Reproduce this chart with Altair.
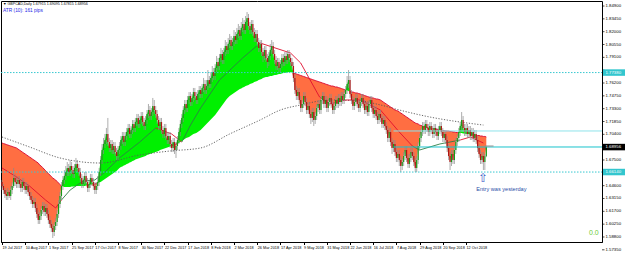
import altair as alt
import pandas as pd

# ---------------- data ----------------
dates = ["19 Jul 2017", "10 Aug 2017", "1 Sep 2017", "25 Sep 2017", "17 Oct 2017", "8 Nov 2017",
         "30 Nov 2017", "22 Dec 2017", "17 Jan 2018", "8 Feb 2018", "2 Mar 2018", "26 Mar 2018",
         "17 Apr 2018", "9 May 2018", "31 May 2018", "22 Jun 2018", "16 Jul 2018", "7 Aug 2018",
         "29 Aug 2018", "20 Sep 2018", "12 Oct 2018"]

opens = [
1.6501,1.6456,1.6411,1.6366,1.6343,1.6388,1.6343,1.6411,1.6456,1.6547,
1.6501,1.6479,1.6524,1.6479,1.6434,1.6501,1.6456,1.6411,1.6456,1.6388,
1.6343,1.6298,1.6253,1.6275,1.6208,1.6140,1.6072,1.6117,1.6185,1.6230,
1.6162,1.6208,1.6140,1.6072,1.6027,1.5982,1.5936,1.6004,1.6049,1.6140,
1.6253,1.6343,1.6456,1.6524,1.6569,1.6614,1.6660,1.6614,1.6682,1.6637,
1.6592,1.6660,1.6705,1.6660,1.6614,1.6547,1.6479,1.6524,1.6569,1.6501,
1.6434,1.6479,1.6547,1.6501,1.6456,1.6411,1.6456,1.6501,1.6614,1.6750,
1.6863,1.6931,1.6976,1.7044,1.6953,1.6886,1.6931,1.6863,1.6908,1.6840,
1.6795,1.6863,1.6908,1.6976,1.7021,1.6953,1.7021,1.7066,1.7112,1.7044,
1.7089,1.7157,1.7112,1.7179,1.7225,1.7157,1.7202,1.7247,1.7179,1.7134,
1.7202,1.7270,1.7315,1.7247,1.7292,1.7360,1.7315,1.7270,1.7202,1.7134,
1.7179,1.7089,1.7044,1.7112,1.7021,1.6976,1.7021,1.6931,1.6886,1.6953,
1.6863,1.6908,1.6976,1.7066,1.7157,1.7225,1.7315,1.7383,1.7338,1.7428,
1.7473,1.7405,1.7451,1.7518,1.7473,1.7428,1.7496,1.7541,1.7496,1.7564,
1.7609,1.7541,1.7586,1.7654,1.7609,1.7677,1.7744,1.7699,1.7790,1.7857,
1.7812,1.7903,1.7948,1.7880,1.7970,1.8038,1.7993,1.8061,1.8106,1.8038,
1.8083,1.8151,1.8106,1.8174,1.8219,1.8151,1.8242,1.8287,1.8219,1.8309,
1.8355,1.8264,1.8219,1.8287,1.8196,1.8129,1.8174,1.8083,1.8016,1.8061,
1.7970,1.7925,1.7993,1.7903,1.7857,1.7925,1.7993,1.8038,1.7948,1.7880,
1.7812,1.7857,1.7790,1.7835,1.7903,1.7857,1.7925,1.7880,1.7948,1.7903,
1.7857,1.7812,1.7677,1.7541,1.7473,1.7518,1.7428,1.7338,1.7383,1.7473,
1.7405,1.7315,1.7360,1.7270,1.7225,1.7292,1.7202,1.7247,1.7338,1.7383,
1.7315,1.7428,1.7473,1.7383,1.7428,1.7338,1.7405,1.7451,1.7383,1.7315,
1.7360,1.7428,1.7383,1.7451,1.7405,1.7473,1.7428,1.7496,1.7541,1.7609,
1.7654,1.7496,1.7428,1.7360,1.7405,1.7451,1.7383,1.7338,1.7405,1.7451,
1.7383,1.7315,1.7360,1.7292,1.7383,1.7428,1.7338,1.7270,1.7315,1.7247,
1.7202,1.7270,1.7225,1.7157,1.7202,1.7134,1.7089,1.6999,1.7066,1.6953,
1.6886,1.6931,1.6840,1.6773,1.6818,1.6750,1.6682,1.6727,1.6795,1.6863,
1.6773,1.6705,1.6773,1.6840,1.6795,1.6727,1.6660,1.6750,1.6908,1.6999,
1.7066,1.7134,1.7089,1.7157,1.7112,1.7066,1.7134,1.7089,1.7044,1.7112,
1.7066,1.7021,1.7089,1.7134,1.7066,1.6999,1.7044,1.6976,1.6886,1.6795,
1.6727,1.6818,1.6750,1.6863,1.6953,1.6999,1.7066,1.7134,1.7202,1.7112,
1.7066,1.7112,1.7044,1.7089,1.7021,1.7066,1.6999,1.7044,1.6976,1.6886,
1.6818,1.6750,1.6795,1.6727,1.6792]

highs = [
1.6524,1.6479,1.6434,1.6411,1.6434,1.6411,1.6456,1.6501,1.6660,1.6592,
1.6547,1.6569,1.6569,1.6524,1.6547,1.6547,1.6501,1.6501,1.6479,1.6434,
1.6388,1.6343,1.6321,1.6321,1.6253,1.6185,1.6162,1.6230,1.6275,1.6275,
1.6253,1.6253,1.6185,1.6117,1.6072,1.6027,1.6049,1.6095,1.6185,1.6298,
1.6388,1.6501,1.6569,1.6637,1.6682,1.6727,1.6705,1.6750,1.6727,1.6682,
1.6705,1.6773,1.6750,1.6705,1.6660,1.6592,1.6569,1.6614,1.6614,1.6547,
1.6524,1.6592,1.6592,1.6547,1.6501,1.6501,1.6569,1.6660,1.6795,1.6931,
1.6999,1.7044,1.7112,1.7225,1.6999,1.6976,1.6976,1.6953,1.6953,1.6886,
1.6908,1.6953,1.7021,1.7066,1.7066,1.7066,1.7112,1.7157,1.7157,1.7134,
1.7202,1.7202,1.7225,1.7270,1.7270,1.7247,1.7292,1.7292,1.7225,1.7247,
1.7315,1.7383,1.7360,1.7338,1.7451,1.7428,1.7360,1.7315,1.7247,1.7225,
1.7225,1.7134,1.7157,1.7157,1.7066,1.7066,1.7066,1.6976,1.6999,1.6999,
1.6953,1.7021,1.7112,1.7202,1.7270,1.7360,1.7428,1.7428,1.7473,1.7518,
1.7518,1.7496,1.7564,1.7564,1.7518,1.7541,1.7586,1.7586,1.7609,1.7677,
1.7654,1.7654,1.7767,1.7699,1.7744,1.7812,1.7790,1.7835,1.7925,1.7903,
1.7948,1.8016,1.7993,1.8016,1.8106,1.8083,1.8129,1.8174,1.8151,1.8129,
1.8219,1.8196,1.8242,1.8287,1.8264,1.8309,1.8355,1.8332,1.8377,1.8422,
1.8400,1.8309,1.8332,1.8332,1.8242,1.8219,1.8219,1.8129,1.8106,1.8106,
1.8016,1.8038,1.8038,1.7948,1.7970,1.8061,1.8106,1.8083,1.7993,1.7925,
1.7903,1.7903,1.7880,1.7948,1.7948,1.7970,1.7970,1.7993,1.7993,1.7948,
1.7903,1.7857,1.7722,1.7586,1.7564,1.7564,1.7473,1.7428,1.7518,1.7518,
1.7451,1.7405,1.7405,1.7315,1.7338,1.7338,1.7292,1.7383,1.7428,1.7428,
1.7473,1.7518,1.7518,1.7473,1.7473,1.7451,1.7496,1.7496,1.7428,1.7405,
1.7473,1.7473,1.7496,1.7496,1.7518,1.7518,1.7541,1.7586,1.7699,1.7767,
1.7699,1.7541,1.7473,1.7451,1.7496,1.7496,1.7428,1.7451,1.7496,1.7496,
1.7428,1.7405,1.7405,1.7428,1.7473,1.7473,1.7383,1.7360,1.7360,1.7292,
1.7315,1.7315,1.7270,1.7247,1.7247,1.7179,1.7134,1.7112,1.7112,1.6999,
1.6976,1.6976,1.6886,1.6863,1.6863,1.6795,1.6773,1.6840,1.6908,1.6908,
1.6818,1.6818,1.6886,1.6886,1.6840,1.6773,1.6795,1.6953,1.7044,1.7112,
1.7179,1.7179,1.7202,1.7202,1.7157,1.7179,1.7179,1.7134,1.7157,1.7157,
1.7112,1.7134,1.7179,1.7179,1.7112,1.7089,1.7089,1.7021,1.6931,1.6840,
1.6863,1.6863,1.6908,1.6999,1.7044,1.7112,1.7179,1.7292,1.7247,1.7157,
1.7157,1.7157,1.7134,1.7134,1.7112,1.7112,1.7089,1.7089,1.7021,1.6931,
1.6863,1.6840,1.6840,1.6818,1.6910]

lows = [
1.6411,1.6366,1.6321,1.6298,1.6298,1.6321,1.6298,1.6366,1.6434,1.6456,
1.6434,1.6434,1.6434,1.6388,1.6388,1.6411,1.6366,1.6366,1.6343,1.6298,
1.6253,1.6208,1.6208,1.6162,1.6095,1.6027,1.6027,1.6072,1.6140,1.6117,
1.6117,1.6095,1.6027,1.5982,1.5936,1.5869,1.5891,1.5959,1.6004,1.6095,
1.6208,1.6298,1.6411,1.6479,1.6524,1.6569,1.6569,1.6569,1.6592,1.6547,
1.6547,1.6614,1.6614,1.6569,1.6501,1.6434,1.6434,1.6479,1.6456,1.6388,
1.6388,1.6434,1.6456,1.6411,1.6366,1.6366,1.6411,1.6456,1.6569,1.6705,
1.6818,1.6886,1.6931,1.6908,1.6840,1.6840,1.6818,1.6818,1.6795,1.6750,
1.6750,1.6818,1.6863,1.6931,1.6908,1.6908,1.6976,1.7021,1.6999,1.6999,
1.7044,1.7066,1.7066,1.7134,1.7112,1.7112,1.7157,1.7134,1.7089,1.7089,
1.7157,1.7225,1.7202,1.7202,1.7247,1.7270,1.7225,1.7157,1.7089,1.7089,
1.7044,1.6999,1.6999,1.6976,1.6931,1.6931,1.6886,1.6840,1.6840,1.6818,
1.6773,1.6863,1.6931,1.7021,1.7112,1.7179,1.7270,1.7292,1.7292,1.7383,
1.7360,1.7360,1.7405,1.7428,1.7383,1.7383,1.7451,1.7451,1.7451,1.7518,
1.7496,1.7496,1.7541,1.7564,1.7564,1.7631,1.7654,1.7654,1.7744,1.7767,
1.7767,1.7857,1.7835,1.7835,1.7925,1.7948,1.7948,1.8016,1.7993,1.7993,
1.8038,1.8061,1.8061,1.8129,1.8106,1.8106,1.8196,1.8174,1.8174,1.8264,
1.8219,1.8174,1.8174,1.8151,1.8083,1.8083,1.8038,1.7970,1.7970,1.7925,
1.7857,1.7880,1.7857,1.7790,1.7812,1.7880,1.7948,1.7903,1.7835,1.7767,
1.7767,1.7744,1.7744,1.7790,1.7812,1.7812,1.7835,1.7835,1.7857,1.7812,
1.7767,1.7631,1.7496,1.7428,1.7428,1.7383,1.7292,1.7292,1.7338,1.7360,
1.7270,1.7270,1.7225,1.7157,1.7179,1.7134,1.7157,1.7202,1.7292,1.7270,
1.7270,1.7383,1.7338,1.7338,1.7292,1.7292,1.7360,1.7338,1.7270,1.7270,
1.7315,1.7338,1.7338,1.7360,1.7360,1.7383,1.7383,1.7451,1.7496,1.7564,
1.7451,1.7383,1.7315,1.7315,1.7360,1.7338,1.7292,1.7292,1.7360,1.7338,
1.7270,1.7270,1.7247,1.7247,1.7338,1.7292,1.7225,1.7225,1.7202,1.7157,
1.7157,1.7179,1.7112,1.7112,1.7089,1.7044,1.6953,1.6953,1.6908,1.6818,
1.6840,1.6795,1.6727,1.6727,1.6682,1.6614,1.6637,1.6682,1.6750,1.6727,
1.6660,1.6660,1.6727,1.6750,1.6682,1.6614,1.6614,1.6705,1.6863,1.6953,
1.7021,1.7044,1.7044,1.7066,1.7021,1.7021,1.7044,1.6999,1.6999,1.7021,
1.6976,1.6976,1.7044,1.7021,1.6953,1.6953,1.6931,1.6840,1.6750,1.6637,
1.6682,1.6705,1.6705,1.6818,1.6908,1.6953,1.7021,1.7089,1.7066,1.7021,
1.7021,1.6999,1.6999,1.6976,1.6976,1.6953,1.6953,1.6931,1.6840,1.6773,
1.6705,1.6705,1.6637,1.6637,1.6782]

closes = [
1.6456,1.6411,1.6366,1.6343,1.6388,1.6343,1.6411,1.6456,1.6547,1.6501,
1.6479,1.6524,1.6479,1.6434,1.6501,1.6456,1.6411,1.6456,1.6388,1.6343,
1.6298,1.6253,1.6275,1.6208,1.6140,1.6072,1.6117,1.6185,1.6230,1.6162,
1.6208,1.6140,1.6072,1.6027,1.5982,1.5936,1.6004,1.6049,1.6140,1.6253,
1.6343,1.6456,1.6524,1.6569,1.6614,1.6660,1.6614,1.6682,1.6637,1.6592,
1.6660,1.6705,1.6660,1.6614,1.6547,1.6479,1.6524,1.6569,1.6501,1.6434,
1.6479,1.6547,1.6501,1.6456,1.6411,1.6456,1.6501,1.6614,1.6750,1.6863,
1.6931,1.6976,1.7044,1.6953,1.6886,1.6931,1.6863,1.6908,1.6840,1.6795,
1.6863,1.6908,1.6976,1.7021,1.6953,1.7021,1.7066,1.7112,1.7044,1.7089,
1.7157,1.7112,1.7179,1.7225,1.7157,1.7202,1.7247,1.7179,1.7134,1.7202,
1.7270,1.7315,1.7247,1.7292,1.7360,1.7315,1.7270,1.7202,1.7134,1.7179,
1.7089,1.7044,1.7112,1.7021,1.6976,1.7021,1.6931,1.6886,1.6953,1.6863,
1.6908,1.6976,1.7066,1.7157,1.7225,1.7315,1.7383,1.7338,1.7428,1.7473,
1.7405,1.7451,1.7518,1.7473,1.7428,1.7496,1.7541,1.7496,1.7564,1.7609,
1.7541,1.7586,1.7654,1.7609,1.7677,1.7744,1.7699,1.7790,1.7857,1.7812,
1.7903,1.7948,1.7880,1.7970,1.8038,1.7993,1.8061,1.8106,1.8038,1.8083,
1.8151,1.8106,1.8174,1.8219,1.8151,1.8242,1.8287,1.8219,1.8309,1.8355,
1.8264,1.8219,1.8287,1.8196,1.8129,1.8174,1.8083,1.8016,1.8061,1.7970,
1.7925,1.7993,1.7903,1.7857,1.7925,1.7993,1.8038,1.7948,1.7880,1.7812,
1.7857,1.7790,1.7835,1.7903,1.7857,1.7925,1.7880,1.7948,1.7903,1.7857,
1.7812,1.7677,1.7541,1.7473,1.7518,1.7428,1.7338,1.7383,1.7473,1.7405,
1.7315,1.7360,1.7270,1.7225,1.7292,1.7202,1.7247,1.7338,1.7383,1.7315,
1.7428,1.7473,1.7383,1.7428,1.7338,1.7405,1.7451,1.7383,1.7315,1.7360,
1.7428,1.7383,1.7451,1.7405,1.7473,1.7428,1.7496,1.7541,1.7609,1.7654,
1.7496,1.7428,1.7360,1.7405,1.7451,1.7383,1.7338,1.7405,1.7451,1.7383,
1.7315,1.7360,1.7292,1.7383,1.7428,1.7338,1.7270,1.7315,1.7247,1.7202,
1.7270,1.7225,1.7157,1.7202,1.7134,1.7089,1.6999,1.7066,1.6953,1.6886,
1.6931,1.6840,1.6773,1.6818,1.6750,1.6682,1.6727,1.6795,1.6863,1.6773,
1.6705,1.6773,1.6840,1.6795,1.6727,1.6660,1.6750,1.6908,1.6999,1.7066,
1.7134,1.7089,1.7157,1.7112,1.7066,1.7134,1.7089,1.7044,1.7112,1.7066,
1.7021,1.7089,1.7134,1.7066,1.6999,1.7044,1.6976,1.6886,1.6795,1.6727,
1.6818,1.6750,1.6863,1.6953,1.6999,1.7066,1.7134,1.7202,1.7112,1.7066,
1.7112,1.7044,1.7089,1.7021,1.7066,1.6999,1.7044,1.6976,1.6886,1.6818,
1.6750,1.6795,1.6727,1.6792,1.6896]

slow_ma = [
1.6942,1.6936,1.6931,1.6925,1.6919,1.6914,1.6908,1.6903,1.6897,1.6891,
1.6886,1.6874,1.6863,1.6852,1.6840,1.6829,1.6818,1.6807,1.6795,1.6784,
1.6773,1.6761,1.6750,1.6739,1.6727,1.6716,1.6693,1.6682,1.6665,1.6648,
1.6631,1.6614,1.6597,1.6580,1.6563,1.6547,1.6535,1.6524,1.6507,1.6490,
1.6473,1.6456,1.6451,1.6445,1.6445,1.6445,1.6445,1.6445,1.6451,1.6451,
1.6451,1.6456,1.6456,1.6456,1.6456,1.6456,1.6456,1.6456,1.6462,1.6462,
1.6468,1.6468,1.6473,1.6479,1.6479,1.6485,1.6490,1.6496,1.6501,1.6513,
1.6524,1.6535,1.6547,1.6558,1.6569,1.6580,1.6592,1.6603,1.6614,1.6626,
1.6643,1.6660,1.6671,1.6677,1.6688,1.6693,1.6705,1.6710,1.6722,1.6727,
1.6739,1.6744,1.6756,1.6761,1.6767,1.6773,1.6778,1.6784,1.6790,1.6795,
1.6807,1.6812,1.6818,1.6824,1.6829,1.6835,1.6840,1.6846,1.6852,1.6863,
1.6869,1.6874,1.6880,1.6886,1.6891,1.6897,1.6903,1.6908,1.6919,1.6925,
1.6931,1.6936,1.6942,1.6953,1.6965,1.6976,1.6987,1.6999,1.7004,1.7010,
1.7021,1.7033,1.7044,1.7050,1.7055,1.7066,1.7078,1.7089,1.7106,1.7123,
1.7140,1.7157,1.7174,1.7191,1.7208,1.7225,1.7242,1.7259,1.7281,1.7304,
1.7326,1.7349,1.7372,1.7394,1.7417,1.7439,1.7456,1.7473,1.7485,1.7496,
1.7507,1.7518,1.7530,1.7541,1.7552,1.7558,1.7569,1.7575,1.7586,1.7592,
1.7598,1.7609,1.7615,1.7620,1.7632,1.7637,1.7643,1.7654,1.7660,1.7665,
1.7677,1.7682,1.7688,1.7688,1.7694,1.7699,1.7699,1.7705,1.7711,1.7711,
1.7716,1.7722,1.7722,1.7727,1.7733,1.7733,1.7739,1.7739,1.7744,1.7744,
1.7739,1.7733,1.7727,1.7722,1.7716,1.7711,1.7705,1.7699,1.7694,1.7688,
1.7682,1.7677,1.7671,1.7665,1.7660,1.7654,1.7648,1.7643,1.7637,1.7632,
1.7626,1.7620,1.7615,1.7609,1.7603,1.7598,1.7592,1.7586,1.7586,1.7581,
1.7575,1.7575,1.7569,1.7564,1.7558,1.7552,1.7547,1.7541,1.7535,1.7530,
1.7524,1.7518,1.7518,1.7513,1.7507,1.7507,1.7501,1.7496,1.7490,1.7485,
1.7479,1.7473,1.7468,1.7462,1.7456,1.7451,1.7451,1.7445,1.7439,1.7439,
1.7434,1.7428,1.7417,1.7405,1.7394,1.7383,1.7372,1.7360,1.7349,1.7338,
1.7326,1.7315,1.7309,1.7304,1.7292,1.7281,1.7270,1.7259,1.7247,1.7236,
1.7225,1.7213,1.7202,1.7191,1.7179,1.7168,1.7162,1.7157,1.7145,1.7140,
1.7134,1.7129,1.7123,1.7117,1.7112,1.7112,1.7106,1.7106,1.7100,1.7100,
1.7095,1.7095,1.7089,1.7089,1.7083,1.7083,1.7078,1.7078,1.7078,1.7072,
1.7072,1.7066,1.7066,1.7061,1.7061,1.7055,1.7055,1.7055,1.7050,1.7050,
1.7044,1.7044,1.7044,1.7038,1.7038,1.7033,1.7033,1.7033,1.7027,1.7027,
1.7021,1.7021,1.7016,1.7016,1.7010]

# medium moving average (read at its turning points), r = drawn red, g = drawn green
mid_idx = [0, 9, 19, 30, 37, 41, 47, 56, 64, 71, 81, 95, 106, 117, 124, 130, 137, 150, 166, 178,
           199, 206, 219, 226, 237, 247, 261, 274, 283, 288, 302, 316, 323, 332]
mid_val = [1.6660, 1.6569, 1.6456, 1.6298, 1.6208, 1.6298, 1.6411, 1.6513, 1.6524, 1.6614,
           1.6773, 1.6953, 1.7112, 1.7044, 1.6953, 1.7145, 1.7338, 1.7654, 1.7903, 1.8072,
           1.7959, 1.7846, 1.7462, 1.7383, 1.7428, 1.7428, 1.7315, 1.7066, 1.6908, 1.6863,
           1.6931, 1.6976, 1.7010, 1.6942]
mid_col = ["r", "r", "r", "r", "r", "g", "g", "g", "g", "g", "g", "g", "r", "r", "g", "g", "g",
           "g", "g", "r", "r", "r", "r", "r", "r", "r", "r", "r", "g", "g", "g", "r", "r", "r"]

# long (dotted) moving average
dot_idx = [0, 19, 40, 68, 95, 116, 137, 157, 178, 192, 206, 226, 247, 261, 274, 295, 316, 332]
dot_val = [1.7010, 1.6897, 1.6773, 1.6716, 1.6807, 1.6852, 1.6886, 1.7044, 1.7202, 1.7315,
           1.7372, 1.7428, 1.7417, 1.7372, 1.7315, 1.7236, 1.7179, 1.7145]

# price-scale ticks; the labels hidden under the coloured price tags are left blank
ytick_vals = [1.8490, 1.8345, 1.8200, 1.8055, 1.7910, 1.7765, 1.7620, 1.7475, 1.7330, 1.7185,
              1.7040, 1.6895, 1.6750, 1.6605, 1.6460, 1.6315, 1.6170, 1.6025, 1.5880, 1.5735]
ytick_labels = ["1.84900", "1.83450", "1.82000", "1.80550", "1.79100", "", "1.76200",
                "1.74750", "1.73300", "1.71850", "1.70400", "", "1.67500", "",
                "1.64600", "1.63150", "1.61700", "1.60250", "1.58800", "1.57350"]

dotted_levels = [1.7738, 1.6614]
solid_levels = [1.7078, 1.6897]
solid_colors = ["#8FE3EA", "#19C3CC"]
solid_start = [270, 270]
price_tags = [1.7738, 1.6896, 1.6614]
price_tag_text = ["1.77380", "1.68956", "1.66140"]
price_tag_fill = ["#33C6CE", "#000000", "#33C6CE"]

header = "\u25BC GBPCAD,Daily  1.67915 1.69095 1.67815 1.68956"
atr_text = "ATR (10): 161 pips"

# ---------------- chart ----------------
W, H = 601, 241
xs = alt.Scale(domain=[-0.69, 413.79], nice=False, zero=False)
ys = alt.Scale(domain=[1.58234, 1.85467], nice=False, zero=False)

label_array = "[" + ",".join("'" + d + "'" for d in dates) + "]"
xaxis = alt.Axis(values=list(range(0, 16 * len(dates), 16)),
                 labelExpr=label_array + "[round(datum.value/16)]",
                 labelAlign="left", labelBaseline="top", labelFontSize=3.8,
                 labelFont="Liberation Sans", labelColor="#000000", labelPadding=1,
                 tickSize=2.5, tickColor="#000000", domainColor="#000000",
                 grid=False, title=None, labelOverlap=False)


def X(f="i"):
    return alt.X(f + ":Q", scale=xs, axis=xaxis)


def Y(f):
    return alt.Y(f + ":Q", scale=ys, axis=None)


df = pd.DataFrame({"i": list(range(len(closes))), "o": opens, "h": highs,
                   "l": lows, "c": closes, "slow": slow_ma})
base = alt.Chart(df)

green = base.transform_calculate(top="max(datum.c, datum.slow)").mark_area(
    color="#00F000", opacity=1).encode(x=X(), y=Y("slow"), y2=alt.Y2("top"))
red = base.transform_calculate(bot="min(datum.c, datum.slow)").mark_area(
    color="#FF6E42", opacity=1).encode(x=X(), y=Y("bot"), y2=alt.Y2("slow"))

slow_line = base.transform_window(
    window=[{"op": "lead", "field": "i", "as": "i_next"},
            {"op": "lead", "field": "slow", "as": "s_next"}]
).transform_filter("isValid(datum.i_next) && datum.c < datum.slow").mark_rule(
    color="#DC143C", strokeWidth=1).encode(x=X(), x2=alt.X2("i_next"), y=Y("slow"), y2=alt.Y2("s_next"))

mid_df = pd.DataFrame({"i": mid_idx, "v": mid_val, "col": mid_col})
mid_base = alt.Chart(mid_df).transform_window(
    window=[{"op": "lead", "field": "i", "as": "i_next"},
            {"op": "lead", "field": "v", "as": "v_next"}]
).transform_filter("isValid(datum.i_next)")
mid_red = mid_base.transform_filter("datum.col == 'r'").mark_rule(
    color="#E01030", strokeWidth=0.9).encode(x=X(), x2=alt.X2("i_next"), y=Y("v"), y2=alt.Y2("v_next"))
mid_green = mid_base.transform_filter("datum.col == 'g'").mark_rule(
    color="#2F7F45", strokeWidth=0.9).encode(x=X(), x2=alt.X2("i_next"), y=Y("v"), y2=alt.Y2("v_next"))

dot_df = pd.DataFrame({"i": dot_idx, "v": dot_val})
dotted = alt.Chart(dot_df).mark_line(color="#555555", strokeWidth=0.9, strokeDash=[1.2, 1.6],
                                     interpolate="monotone").encode(x=X(), y=Y("v"))

wicks = base.mark_rule(color="#8A8A8A", strokeWidth=0.7).encode(x=X(), y=Y("l"), y2=alt.Y2("h"))
up = base.transform_filter("datum.c >= datum.o").mark_rule(color="#169C16", strokeWidth=1.2).encode(
    x=X(), y=Y("o"), y2=alt.Y2("c"))
dn = base.transform_filter("datum.c < datum.o").mark_rule(color="#B01414", strokeWidth=1.2).encode(
    x=X(), y=Y("o"), y2=alt.Y2("c"))

lvl_dot = alt.Chart(pd.DataFrame({"v": dotted_levels})).mark_rule(
    color="#38C8D0", strokeWidth=1, strokeDash=[1.5, 1.5]).encode(
    y=Y("v"), x=alt.value(0), x2=alt.value(W))
lvl_solid = alt.Chart(pd.DataFrame({"v": solid_levels, "i": solid_start, "col": solid_colors})).mark_rule(
    strokeWidth=1).encode(y=Y("v"), x=X(), x2=alt.value(W), color=alt.Color("col:N", scale=None))
gray_seg = alt.Chart(pd.DataFrame({"v": [1.6908], "i": [333], "i2": [339]})).mark_rule(
    color="#909090", strokeWidth=1).encode(y=Y("v"), x=X(), x2=alt.X2("i2"))

tick_df = pd.DataFrame({"v": ytick_vals, "t": ytick_labels})
ytick_marks = alt.Chart(tick_df).mark_rule(color="#000000", strokeWidth=0.7).encode(
    y=Y("v"), x=alt.value(W), x2=alt.value(W + 2.5))
ytick_text = alt.Chart(tick_df).transform_filter("datum.t != ''").mark_text(
    align="left", baseline="middle", fontSize=4.3, font="Liberation Sans", color="#000000").encode(
    y=Y("v"), x=alt.value(W + 3.5), text="t:N")

tag_df = pd.DataFrame({"v": price_tags, "t": price_tag_text, "fill": price_tag_fill})
tag_box = alt.Chart(tag_df).mark_rule(strokeWidth=6.5).encode(
    y=Y("v"), x=alt.value(W + 1), x2=alt.value(W + 23), color=alt.Color("fill:N", scale=None))
tag_text = alt.Chart(tag_df).mark_text(align="left", baseline="middle", fontSize=4.3,
                                       font="Liberation Sans", color="#FFFFFF").encode(
    y=Y("v"), x=alt.value(W + 3.5), text="t:N")

note_df = pd.DataFrame({"i": [327], "v": [1.6422], "t": ["Entry was yesterday"]})
note = alt.Chart(note_df).mark_text(align="left", baseline="middle", fontSize=5.6,
                                    font="Liberation Sans", color="#2A4FA8").encode(
    x=X(), y=Y("v"), text="t:N")
arrow_df = pd.DataFrame({"i": [332], "v": [1.6547], "t": ["\u21E7"]})
arrow = alt.Chart(arrow_df).mark_text(align="center", baseline="middle", fontSize=12,
                                      font="DejaVu Sans", color="#3A5CC8").encode(
    x=X(), y=Y("v"), text="t:N")

head = alt.Chart(pd.DataFrame({"t": [header]})).mark_text(
    align="left", baseline="middle", fontSize=3.6, font="Liberation Sans", color="#000000").encode(
    x=alt.value(2), y=alt.value(3), text="t:N")
atr = alt.Chart(pd.DataFrame({"t": [atr_text]})).mark_text(
    align="left", baseline="middle", fontSize=4.8, font="Liberation Sans", color="#2525E6").encode(
    x=alt.value(2), y=alt.value(10), text="t:N")
zero = alt.Chart(pd.DataFrame({"t": ["0.0"]})).mark_text(
    align="left", baseline="middle", fontSize=7, font="Liberation Sans", color="#6CCB36").encode(
    x=alt.value(588), y=alt.value(232), text="t:N")

chart = alt.layer(
    green, red, dotted, slow_line, mid_red, mid_green, wicks, up, dn,
    lvl_dot, lvl_solid, gray_seg, ytick_marks, ytick_text, tag_box, tag_text,
    note, arrow, head, atr, zero
).properties(
    width=W, height=H,
    autosize=alt.AutoSizeParams(type="none"),
    padding={"left": 1, "top": 1, "right": 23, "bottom": 12},
    background="#FFFFFF"
).configure_view(stroke="#000000", strokeWidth=1)

chart.save("out.html", embed_options={"renderer": "svg", "actions": False})
